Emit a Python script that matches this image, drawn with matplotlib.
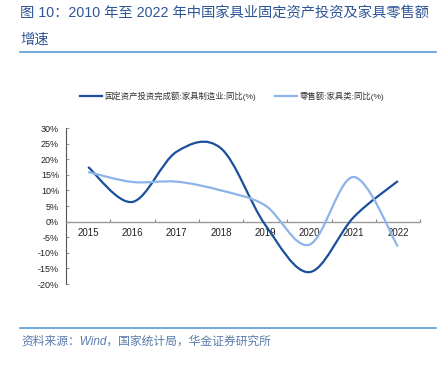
import matplotlib
matplotlib.use('Agg')
import matplotlib.pyplot as plt
from matplotlib.path import Path
from matplotlib.patches import PathPatch
from matplotlib.lines import Line2D

years = ['2015', '2016', '2017', '2018', '2019', '2020', '2021', '2022']
fai_growth = [17.5, 6.3, 22.4, 23.5, -1.0, -16.2, 1.4, 13.0]
retail_growth = [15.9, 12.7, 12.8, 10.0, 5.2, -7.4, 14.3, -8.0]
series_names = ['固定资产投资完成额:家具制造业:同比(%)', '零售额:家具类:同比(%)']
ytick_vals = [-20, -15, -10, -5, 0, 5, 10, 15, 20, 25, 30]
title_line1 = '图 10：2010 年至 2022 年中国家具业固定资产投资及家具零售额'
title_line2 = '增速'
source_text = '资料来源：Wind，国家统计局，华金证券研究所'

FONT = ['Liberation Sans', 'Noto Sans CJK SC', 'DejaVu Sans']
plt.rcParams['font.family'] = FONT

DARK = '#1B4F9C'
LIGHT = '#8DB4EA'


def smooth_path(xs, ys):
    n = len(xs)
    verts = [(xs[0], ys[0])]
    codes = [Path.MOVETO]
    for i in range(n - 1):
        i0 = max(i - 1, 0)
        i3 = min(i + 2, n - 1)
        c1 = (xs[i] + (xs[i + 1] - xs[i0]) / 6.0, ys[i] + (ys[i + 1] - ys[i0]) / 6.0)
        c2 = (xs[i + 1] - (xs[i3] - xs[i]) / 6.0, ys[i + 1] - (ys[i3] - ys[i]) / 6.0)
        verts += [c1, c2, (xs[i + 1], ys[i + 1])]
        codes += [Path.CURVE4] * 3
    return Path(verts, codes)


fig = plt.figure(figsize=(4.47, 3.68), dpi=100)
ax = fig.add_axes([66 / 447, 1 - 284 / 368, (420 - 66) / 447, (284 - 128) / 368])

xs = list(range(len(years)))
for vals, col in [(fai_growth, DARK), (retail_growth, LIGHT)]:
    ax.add_patch(PathPatch(smooth_path(xs, vals), facecolor='none', edgecolor=col,
                           lw=1.6, capstyle='butt', zorder=3))

ax.set_xlim(-0.5, len(years) - 0.5)
ax.set_ylim(-20, 30)
ax.set_yticks(ytick_vals)
ax.set_yticklabels([f'{v}%' for v in ytick_vals])
ax.set_xticks([x + 0.5 for x in xs])
ax.set_xticklabels([''] * len(xs))
ax.set_xticks(xs, minor=True)
ax.set_xticklabels(years, minor=True)
ax.tick_params(axis='x', which='major', direction='in', length=2.5, color='#888888', width=0.8)
ax.tick_params(axis='x', which='minor', length=0, pad=4.5, labelsize=7, labelcolor='#222222')
ax.tick_params(axis='y', direction='in', length=2, color='#999999', width=0.8, pad=5,
               labelsize=6.5, labelcolor='#222222')

for s in ['top', 'right']:
    ax.spines[s].set_visible(False)
ax.spines['bottom'].set_position(('data', 0))
ax.spines['bottom'].set_color('#999999')
ax.spines['bottom'].set_linewidth(1.0)
ax.spines['left'].set_color('#555555')
ax.spines['left'].set_linewidth(0.8)
ax.patch.set_alpha(0)

handles = [Line2D([], [], color=DARK, lw=1.6), Line2D([], [], color=LIGHT, lw=1.6)]
fig.legend(handles, series_names, loc='center', bbox_to_anchor=(232 / 447, 1 - 96 / 368),
           ncol=2, frameon=False, fontsize=6, handlelength=2.7, handletextpad=0.3,
           columnspacing=2.2, labelcolor='#333333')

# Title
TCOL = '#2F5597'
fig.text(20 / 447, 1 - 13 / 368, title_line1, fontsize=10.3, color=TCOL, va='center', ha='left')
fig.text(20 / 447, 1 - 40 / 368, title_line2, fontsize=10.3, color=TCOL, va='center', ha='left')
fig.add_artist(Line2D([20 / 447, 436 / 447], [1 - 52 / 368, 1 - 52 / 368],
                      transform=fig.transFigure, color='#5A9BD5', lw=1.2))
fig.add_artist(Line2D([20 / 447, 436 / 447], [1 - 327.5 / 368, 1 - 327.5 / 368],
                      transform=fig.transFigure, color='#5A9BD5', lw=1.2))
fig.text(21 / 447, 1 - 342 / 368, source_text, fontsize=8.5, color='#5A7CAD',
         va='center', ha='left', style='italic')

fig.savefig('out.png', dpi=100)
